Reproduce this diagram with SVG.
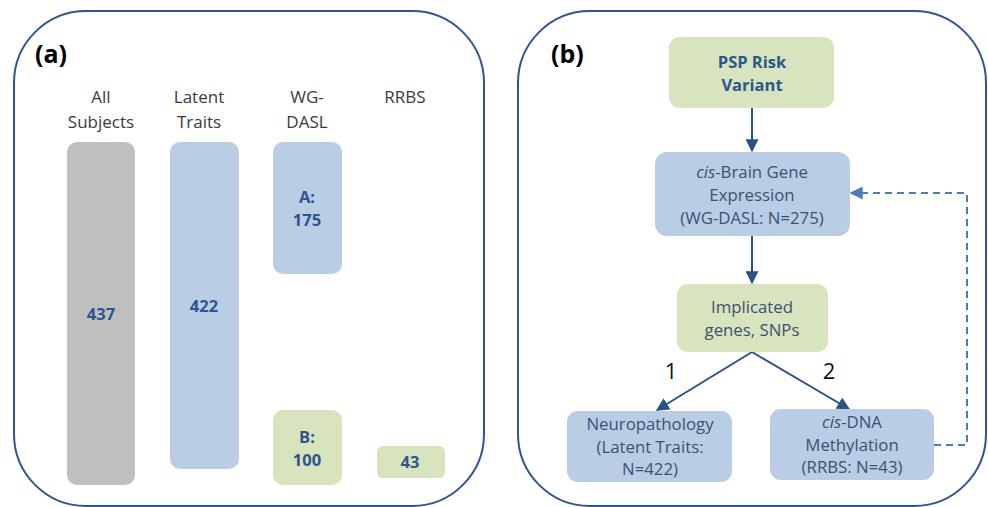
<svg xmlns="http://www.w3.org/2000/svg" width="988" height="507" viewBox="0 0 988 507">
<defs>
<style>
.panel{fill:#fff;stroke:#2F5597;stroke-width:2}
.gray{fill:#BFBFBF}
.blue{fill:#B9CDE5}
.green{fill:#D7E4BD}
text{font-family:"Open Sans","Liberation Sans",sans-serif;text-anchor:middle}
.hdr{font-size:17px;fill:#3A3A3A}
.num{font-size:16.5px;font-weight:bold;fill:#2E5590}
.lbl{font-size:16.8px;fill:#3B5275}
.tag{font-size:25px;font-weight:bold;fill:#000;text-anchor:start}
.br{font-size:22px;fill:#111}
.conn{stroke:#2A5285;stroke-width:2;fill:none}
.dash{stroke:#4A7EBB;stroke-width:2;fill:none;stroke-dasharray:7 5}
</style>
<marker id="ah" viewBox="0 0 10 10" refX="9" refY="5" markerWidth="6.5" markerHeight="6.5" orient="auto" markerUnits="strokeWidth">
<path d="M0,0 L10,5 L0,10 z" fill="#2A5285"/>
</marker>
<marker id="ahd" viewBox="0 0 10 10" refX="9" refY="5" markerWidth="6.5" markerHeight="6.5" orient="auto" markerUnits="strokeWidth">
<path d="M0,0 L10,5 L0,10 z" fill="#4A7EBB"/>
</marker>
</defs>
<rect width="988" height="507" fill="#fff"/>

<g id="panel-a">
<rect class="panel" x="14" y="11" width="470" height="495" rx="72" ry="72"/>
<text class="tag" x="35" y="63">(a)</text>
</g>
<g id="col-all">
<text class="hdr" x="101" y="103">All</text>
<text class="hdr" x="101" y="128">Subjects</text>
<rect class="gray" x="67" y="142" width="68" height="343" rx="10"/>
<text class="num" x="101" y="320">437</text>
</g>
<g id="col-latent">
<text class="hdr" x="199" y="103">Latent</text>
<text class="hdr" x="199" y="128">Traits</text>
<rect class="blue" x="170" y="142" width="69" height="327" rx="10"/>
<text class="num" x="204" y="312">422</text>
</g>
<g id="col-wgdasl">
<text class="hdr" x="307" y="103">WG-</text>
<text class="hdr" x="307" y="128">DASL</text>
</g>
<g id="box-a">
<rect class="blue" x="273" y="142" width="69" height="132" rx="10"/>
<text class="num" x="307" y="203">A:</text>
<text class="num" x="307" y="226">175</text>
</g>
<g id="box-b">
<rect class="green" x="273" y="410" width="69" height="75" rx="10"/>
<text class="num" x="307" y="443">B:</text>
<text class="num" x="307" y="466">100</text>
</g>
<g id="col-rrbs">
<text class="hdr" x="405" y="103">RRBS</text>
<rect class="green" x="377" y="446" width="68" height="32" rx="6"/>
<text class="num" x="410" y="468">43</text>
</g>

<g id="panel-b">
<rect class="panel" x="518" y="11" width="468" height="495" rx="72" ry="72"/>
<text class="tag" x="551" y="63">(b)</text>
</g>

<g id="connectors">
<line class="conn" x1="752" y1="108" x2="752" y2="151" marker-end="url(#ah)"/>
<line class="conn" x1="752" y1="236" x2="752" y2="283" marker-end="url(#ah)"/>
<line class="conn" x1="752" y1="352" x2="657" y2="410" marker-end="url(#ah)"/>
<line class="conn" x1="752" y1="352" x2="849" y2="409" marker-end="url(#ah)"/>
<polyline class="dash" points="934,445 967,445 967,193 851,193" marker-end="url(#ahd)"/>
<text class="br" x="671" y="379">1</text>
<text class="br" x="829" y="379">2</text>
</g>

<g id="node-psp">
<rect class="green" x="669" y="37" width="165" height="71" rx="11"/>
<text class="num" x="752" y="68">PSP Risk</text>
<text class="num" x="752" y="91">Variant</text>
</g>
<g id="node-cis-brain">
<rect class="blue" x="655" y="152" width="195" height="84" rx="12"/>
<text class="lbl" x="752" y="178"><tspan font-style="italic">cis</tspan>-Brain Gene</text>
<text class="lbl" x="752" y="201">Expression</text>
<text class="lbl" x="752" y="224">(WG-DASL: N=275)</text>
</g>
<g id="node-implicated">
<rect class="green" x="677" y="284" width="151" height="68" rx="11"/>
<text class="lbl" x="752" y="313">Implicated</text>
<text class="lbl" x="752" y="336">genes, SNPs</text>
</g>
<g id="node-neuro">
<rect class="blue" x="567" y="411" width="165" height="71" rx="11"/>
<text class="lbl" x="650" y="430">Neuropathology</text>
<text class="lbl" x="650" y="453">(Latent Traits:</text>
<text class="lbl" x="650" y="475">N=422)</text>
</g>
<g id="node-cis-dna">
<rect class="blue" x="770" y="409" width="164" height="71" rx="11"/>
<text class="lbl" x="852" y="428"><tspan font-style="italic">cis</tspan>-DNA</text>
<text class="lbl" x="852" y="451">Methylation</text>
<text class="lbl" x="852" y="473">(RRBS: N=43)</text>
</g>
</svg>
